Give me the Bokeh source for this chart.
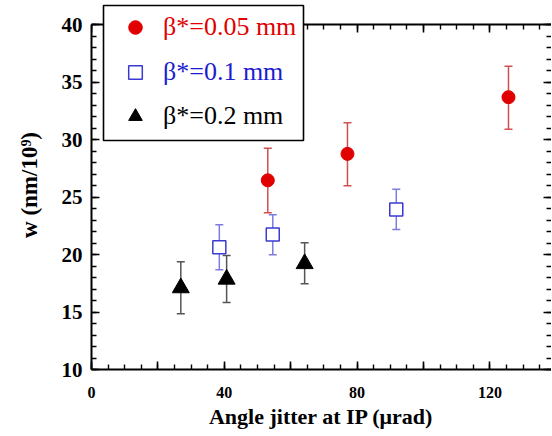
from bokeh.plotting import figure
from bokeh.models import (ColumnDataSource, Whisker, TeeHead, FixedTicker, LinearAxis,
                          Legend, LegendItem, BoxAnnotation, Range1d)
from bokeh.embed import file_html
from bokeh.resources import INLINE

# ---- data ----
red_x = [53.1, 77.1, 125.6]
red_y = [26.45, 28.75, 33.68]
red_lo = [23.63, 25.97, 30.90]
red_hi = [29.24, 31.45, 36.38]

blue_x = [38.5, 54.6, 91.8]
blue_y = [20.64, 21.74, 23.91]
blue_lo = [18.67, 19.97, 22.17]
blue_hi = [22.58, 23.45, 25.68]

blk_x = [26.9, 40.7, 64.2]
blk_y = [17.10, 17.85, 19.20]
blk_lo = [14.84, 15.83, 17.45]
blk_hi = [19.37, 19.91, 21.02]

legend_labels = ["β*=0.05 mm", "β*=0.1 mm", "β*=0.2 mm"]
x_major = [0, 20, 40, 60, 80, 100, 120, 140]
x_minor = list(range(0, 141, 5))
x_label_hidden = [20, 60, 100, 140]
y_major = [10, 15, 20, 25, 30, 35, 40]
y_minor = list(range(10, 41, 1))
x_title = "Angle jitter at IP (μrad)"
y_title = "w (nm/10⁹)"

RED = "#e00000"
RED_ERR = "#d05050"
BLUE = "#3a3ad2"
BLUE_ERR = "#7d7de0"
BLUE_TXT = "#1c1cd0"
BLK = "#000000"
BLK_ERR = "#555555"
FONT = "Liberation Serif"

# frame geometry (pixels)
FRAME_W = 460
FRAME_H = 369
PX_PER_Y = 11.5
PX_PER_X = 3.32
TOP_GAP = 24  # pixels above y=40 kept inside frame for the legend box

p = figure(frame_width=FRAME_W, frame_height=FRAME_H,
           x_range=Range1d(0, FRAME_W / PX_PER_X),
           y_range=Range1d(10, 40 + TOP_GAP / PX_PER_Y),
           output_backend="svg", toolbar_location=None,
           min_border_left=91, min_border_top=0, min_border_bottom=67,
           min_border_right=0)
p.xgrid.visible = False
p.ygrid.visible = False
p.outline_line_color = None
p.background_fill_color = "white"
p.border_fill_color = "white"

top_ax = LinearAxis(fixed_location=40)
right_ax = LinearAxis(bounds=(10, 40))
p.add_layout(top_ax, "above")
p.add_layout(right_ax, "right")

def style(ax, major, minor):
    ax.ticker = FixedTicker(ticks=major, minor_ticks=minor)
    ax.axis_line_width = 2
    ax.axis_line_color = "black"
    ax.major_tick_in = 8
    ax.major_tick_out = 0
    ax.minor_tick_in = 5
    ax.minor_tick_out = 0
    ax.major_tick_line_width = 1.6
    ax.minor_tick_line_width = 1.4
    ax.major_tick_line_color = "black"
    ax.minor_tick_line_color = "black"
    ax.major_label_text_font = FONT
    ax.major_label_text_font_style = "bold"
    ax.major_label_text_color = "black"

for ax in p.xaxis:
    style(ax, x_major, x_minor)
for ax in p.yaxis:
    style(ax, y_major, y_minor)

bx = p.below[0]
bx.major_label_overrides = {v: "" for v in x_label_hidden}
bx.major_label_text_font_size = "16px"
bx.major_label_standoff = 17
bx.axis_label = x_title
bx.axis_label_text_font = FONT
bx.axis_label_text_font_style = "bold"
bx.axis_label_text_font_size = "22px"
bx.axis_label_text_color = "black"
bx.axis_label_standoff = 3

ly = p.left[0]
ly.bounds = (10, 40)
ly.major_label_text_font_size = "21px"
ly.major_label_standoff = 9
ly.axis_label = y_title
ly.axis_label_text_font = FONT
ly.axis_label_text_font_style = "bold"
ly.axis_label_text_font_size = "23px"
ly.axis_label_text_color = "black"
ly.axis_label_standoff = 17

top_ax.major_label_overrides = {v: "" for v in x_major}
top_ax.major_label_standoff = 0
right_ax.major_label_overrides = {v: "" for v in y_major}
right_ax.major_label_standoff = 0
right_ax.axis_line_color = None

# ---- error bars ----
def add_err(xs, lo, hi, color):
    src = ColumnDataSource(dict(x=xs, lo=lo, hi=hi))
    w = Whisker(source=src, base="x", lower="lo", upper="hi", dimension="height",
                line_color=color, line_width=1.5,
                lower_head=TeeHead(size=8, line_color=color, line_width=1.5),
                upper_head=TeeHead(size=8, line_color=color, line_width=1.5))
    p.add_layout(w)

add_err(red_x, red_lo, red_hi, RED_ERR)
add_err(blue_x, blue_lo, blue_hi, BLUE_ERR)
add_err(blk_x, blk_lo, blk_hi, BLK_ERR)

r1 = p.scatter(red_x, red_y, marker="circle", size=13, fill_color=RED, line_color=RED)
r2 = p.scatter(blue_x, blue_y, marker="square", size=13, fill_color="white",
               line_color=BLUE, line_width=1.5)
r3 = p.scatter(blk_x, blk_y, marker="triangle", size=17, fill_color=BLK, line_color=BLK)

# ---- legend: white box + one single-row legend per series (own text colour) ----
FB = FRAME_H  # frame bottom as reference for screen units (page y 369)
box = BoxAnnotation(left=12, right=212, top=FB - 5, bottom=FB - 140,
                    left_units="screen", right_units="screen",
                    top_units="screen", bottom_units="screen",
                    fill_color="white", fill_alpha=1.0,
                    line_color="black", line_alpha=1.0, line_width=1.6,
                    level="annotation")
p.add_layout(box)

row_centers = [27, 72, 116]  # page y of rows
txt_colors = [RED, BLUE_TXT, BLK]
for i, r in enumerate([r1, r2, r3]):
    lg = Legend(items=[LegendItem(label=legend_labels[i], renderers=[r])],
                location=(17, FB - row_centers[i] - 17),
                glyph_width=54, glyph_height=34, label_height=34,
                label_standoff=1, spacing=0, padding=0, margin=0,
                border_line_color=None, background_fill_alpha=0.0,
                label_text_color=txt_colors[i], label_text_font=FONT,
                label_text_font_size="26px")
    p.add_layout(lg)

open("out.html", "w").write(file_html(p, INLINE))
